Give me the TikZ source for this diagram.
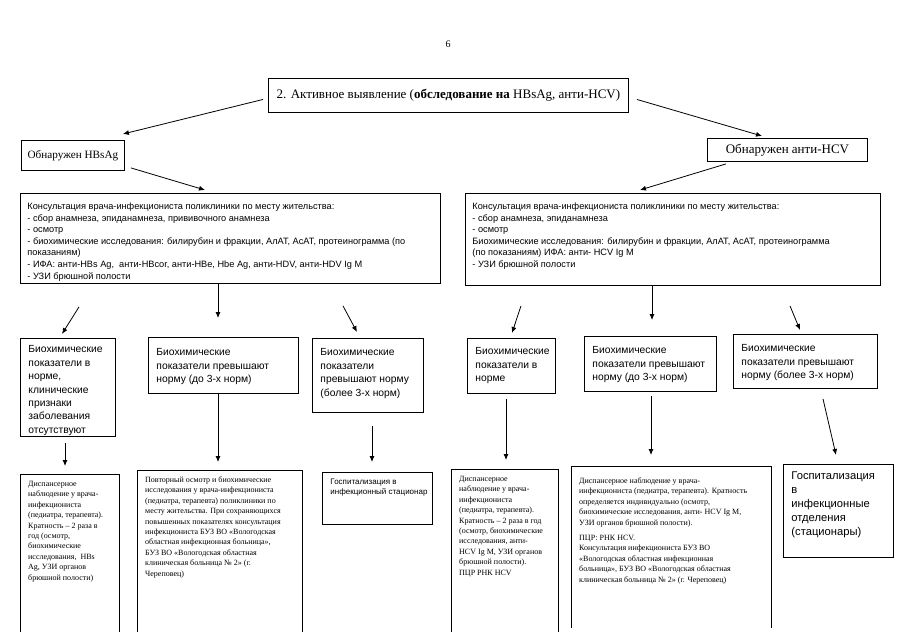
\documentclass[tikz,border=0pt]{standalone}
\usepackage{fontspec}
\setmainfont{Liberation Serif}
\newfontfamily\sansf{Liberation Sans}
\usetikzlibrary{arrows.meta,calc}
\newcommand{\bxt}[5]{\parbox[c][#2pt][t]{#1pt}{#4\vspace*{#3pt}\begin{tabular}[t]{@{}l@{}}#5\end{tabular}}}
\newcommand{\fbig}{\sansf\fontsize{9.2}{11.6}\selectfont}
\newcommand{\fmid}{\sansf\fontsize{10.3}{13.4}\selectfont}
\newcommand{\fbot}{\fontsize{8}{10.4}\selectfont}
\newcommand{\fsm}{\sansf\fontsize{8}{10}\selectfont}
\newcommand{\fhosp}{\sansf\fontsize{11.2}{14}\selectfont}
\tikzset{
  frame/.style={draw, line width=0.9pt, inner xsep=8pt, inner ysep=5pt, anchor=north west},
  openbox/.style={inner xsep=8pt, inner ysep=5pt, anchor=north west},
  hdr/.style={draw, line width=0.9pt, inner sep=0pt, anchor=north west},
  arr/.style={line width=0.8pt, -{Latex[length=6pt,width=5pt]}},
  side/.style={line width=0.9pt},
}
\begin{document}
\begin{tikzpicture}[x=1pt,y=-1pt]
\useasboundingbox (0,0) rectangle (905,640);
\fill[white] (0,0) rectangle (905,640);

\node (pg) at (448,44) {\fontsize{10}{12}\selectfont 6};

\node[hdr, minimum width=360pt, minimum height=34pt] (title) at (268,78)
  {\fontsize{13}{15}\selectfont 2. Активное выявление (\textbf{обследование на} HBsAg, анти-HCV)};
\node[hdr, minimum width=103pt, minimum height=30pt] (hb) at (21,140)
  {\fontsize{11.2}{14}\selectfont Обнаружен HBsAg};
\node[hdr, minimum width=160pt, minimum height=23pt] (ah) at (707,138)
  {\fontsize{13}{15}\selectfont Обнаружен анти-HCV};

% big boxes
\node[frame, inner xsep=7pt] (bl) at (20,193) {\bxt{406}{80}{3}{\fbig}{%
Консультация врача-инфекциониста поликлиники по месту жительства:\\
- сбор анамнеза, эпиданамнеза, прививочного анамнеза\\
- осмотр\\
- биохимические исследования: билирубин и фракции, АлАТ, АсАТ, протеинограмма (по\\
показаниям)\\
- ИФА: анти-HBs Ag,\ \ анти-HBcor, анти-HBe, Hbe Ag, анти-HDV, анти-HDV Ig M\\
- УЗИ брюшной полости}};
\node[frame, inner xsep=7pt] (br) at (465,193) {\bxt{401}{82}{3}{\fbig}{%
Консультация врача-инфекциониста поликлиники по месту жительства:\\
- сбор анамнеза, эпиданамнеза\\
- осмотр\\
Биохимические исследования: билирубин и фракции, АлАТ, АсАТ, протеинограмма\\
(по показаниям) ИФА: анти- HCV Ig M\\
- УЗИ брюшной полости}};

% middle row
\node[frame] (l1) at (20,338) {\bxt{79}{88}{0}{\fmid}{Биохимические\\показатели в\\норме,\\клинические\\признаки\\заболевания\\отсутствуют}};
\node[frame] (l2) at (148,337) {\bxt{134}{46}{4}{\fmid}{Биохимические\\показатели превышают\\норму (до 3-х норм)}};
\node[frame] (l3) at (312,338) {\bxt{95}{64}{3}{\fmid}{Биохимические\\показатели\\превышают норму\\(более 3-х норм)}};
\node[frame] (r1) at (467,338) {\bxt{72}{45}{2}{\fmid}{Биохимические\\показатели в\\норме}};
\node[frame] (r2) at (584,336) {\bxt{116}{45}{3}{\fmid}{Биохимические\\показатели превышают\\норму (до 3-х норм)}};
\node[frame] (r3) at (733,334) {\bxt{128}{44}{3}{\fmid}{Биохимические\\показатели превышают\\норму (более 3-х норм)}};

% bottom row
\node[openbox] (b1) at (20,474) {\bxt{83}{148}{0}{\fbot}{Диспансерное\\наблюдение у врача-\\инфекциониста\\(педиатра, терапевта).\\Кратность -- 2 раза в\\год (осмотр,\\биохимические\\исследования,\ \ HBs\\Ag, УЗИ органов\\брюшной полости)}};
\node[openbox] (b2) at (137,470) {\bxt{149}{152}{0}{\fbot}{Повторный осмотр и биохимические\\исследования у врача-инфекциониста\\(педиатра, терапевта) поликлиники по\\месту жительства. При сохраняющихся\\повышенных показателях консультация\\инфекциониста БУЗ ВО «Вологодская\\областная инфекционная больница»,\\БУЗ ВО «Вологодская областная\\клиническая больница № 2» (г.\\Череповец)}};
\node[frame] (b3) at (322,472) {\bxt{94}{42}{0}{\fsm}{Госпитализация в\\инфекционный стационар}};
\node[openbox] (b4) at (451,469) {\bxt{91}{153}{0}{\fbot}{Диспансерное\\наблюдение у врача-\\инфекциониста\\(педиатра, терапевта).\\Кратность -- 2 раза в год\\(осмотр, биохимические\\исследования, анти-\\HCV Ig M, УЗИ органов\\брюшной полости).\\ПЦР РНК HCV}};
\node[openbox] (b5) at (571,466) {\bxt{184}{152}{5}{\fbot}{Диспансерное наблюдение у врача-\\инфекциониста (педиатра, терапевта). Кратность\\определяется индивидуально (осмотр,\\биохимические исследования, анти- HCV Ig M,\\УЗИ органов брюшной полости).\\[5pt]ПЦР: РНК HCV.\\Консультация инфекциониста БУЗ ВО\\«Вологодская областная инфекционная\\больница», БУЗ ВО «Вологодская областная\\клиническая больница № 2» (г. Череповец)}};
\node[frame] (b6) at (783,464) {\bxt{94}{83}{0}{\fhosp}{Госпитализация\\в\\инфекционные\\отделения\\(стационары)}};

\foreach \n in {b1,b2,b4,b5}
  \draw[side] (\n.south west) -- (\n.north west) -- (\n.north east) -- (\n.south east);

% connectors
\draw[arr] ($(title.west)+(-5,4)$) -- ($(hb.north east)+(-2,-6)$);
\draw[arr] ($(title.east)+(8,4)$) -- ($(ah.north west)+(55,-2)$);
\draw[arr] ($(hb.south east)+(6,-3)$) -- ($(bl.north west)+(185,-3)$);
\draw[arr] ($(ah.south west)+(19,2)$) -- ($(br.north west)+(175,-3)$);
\draw[arr] ($(bl.south west)+(59,23)$) -- ($(l1.north west)+(42,-4)$);
\draw[arr] ($(bl.south west)+(198,0)$) -- ($(l2.north west)+(70,-19)$);
\draw[arr] ($(bl.south west)+(323,22)$) -- ($(l3.north west)+(45,-6)$);
\draw[arr] ($(br.south west)+(56,20)$) -- ($(r1.north west)+(45,-5)$);
\draw[arr] ($(br.south west)+(187,0)$) -- ($(r2.north west)+(68,-16)$);
\draw[arr] ($(br.south west)+(325,20)$) -- ($(r3.north west)+(67,-4)$);
\draw[arr] ($(l1.south west)+(45,6)$) -- ($(b1.north west)+(45,-8)$);
\draw[arr] ($(l2.south west)+(70,0)$) -- ($(b2.north west)+(81,-8)$);
\draw[arr] ($(l3.south west)+(60,13)$) -- ($(b3.north west)+(50,-10)$);
\draw[arr] ($(r1.south west)+(39,5)$) -- ($(b4.north west)+(55,-9)$);
\draw[arr] ($(r2.south west)+(67,4)$) -- ($(b5.north west)+(80,-11)$);
\draw[arr] ($(r3.south west)+(90,10)$) -- ($(b6.north west)+(53,-9)$);
\end{tikzpicture}
\end{document}
